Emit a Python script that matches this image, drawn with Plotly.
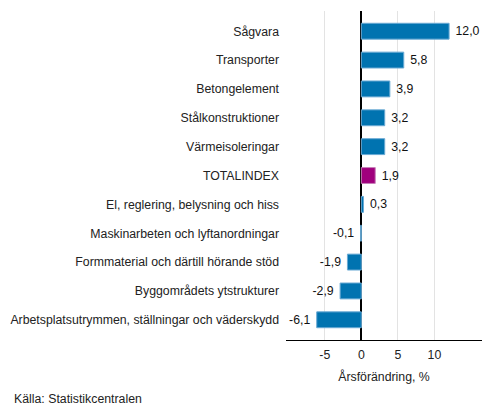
import plotly.graph_objects as go

categories = [
    "Sågvara",
    "Transporter",
    "Betongelement",
    "Stålkonstruktioner",
    "Värmeisoleringar",
    "TOTALINDEX",
    "El, reglering, belysning och hiss",
    "Maskinarbeten och lyftanordningar",
    "Formmaterial och därtill hörande stöd",
    "Byggområdets ytstrukturer",
    "Arbetsplatsutrymmen, ställningar och väderskydd",
]
values = [12.0, 5.8, 3.9, 3.2, 3.2, 1.9, 0.3, -0.1, -1.9, -2.9, -6.1]
tick_vals = [-5, 0, 5, 10]
tick_text = ["-5", "0", "5", "10"]

blue = "#0073b0"
purple = "#a0007d"
colors = [purple if c == "TOTALINDEX" else blue for c in categories]
edges = ["#c77fb8" if c == "TOTALINDEX" else "#6aaad4" for c in categories]
nb = "\u00a0"
labels = [
    (nb + f"{v:.1f}" if v >= 0 else f"{v:.1f}" + nb).replace(".", ",")
    for v in values
]

# page body has an 8px margin, so the figure is laid out 8px smaller
fig = go.Figure(go.Bar(
    x=values,
    y=categories,
    orientation="h",
    width=0.55,
    marker=dict(color=colors, line=dict(color=edges, width=1)),
    text=labels,
    texttemplate="%{text}",
    textposition="outside",
    textfont=dict(size=12.3, color="#111"),
    cliponaxis=False,
))

fig.update_layout(
    width=485, height=408,
    margin=dict(l=278, r=11, t=3, b=76),
    paper_bgcolor="white",
    plot_bgcolor="white",
    showlegend=False,
    font=dict(family="Liberation Sans, Arial", size=12.3, color="#222"),
    xaxis=dict(
        range=[-10.3, 16.5],
        tickvals=tick_vals,
        ticktext=tick_text,
        automargin=False,
        showgrid=True,
        gridcolor="#e3e3e3",
        gridwidth=1,
        zeroline=True,
        zerolinecolor="black",
        zerolinewidth=1.5,
        showline=True,
        linecolor="black",
        linewidth=1,
        ticks="",
        ticklabelstandoff=3,
        title=dict(text="Årsförändring, %", standoff=11, font=dict(size=12.3)),
    ),
    yaxis=dict(
        categoryorder="array",
        categoryarray=categories[::-1],
        range=[-0.7, 10.7],
        automargin=False,
        showgrid=False,
        ticks="",
        ticklabelstandoff=6,
    ),
    annotations=[dict(
        text="Källa: Statistikcentralen",
        xref="paper", yref="paper",
        x=-274 / 196, y=-0.152,
        xanchor="left", yanchor="top",
        showarrow=False,
        font=dict(size=12.3, color="#222"),
    )],
)

fig.write_html("out.html")
